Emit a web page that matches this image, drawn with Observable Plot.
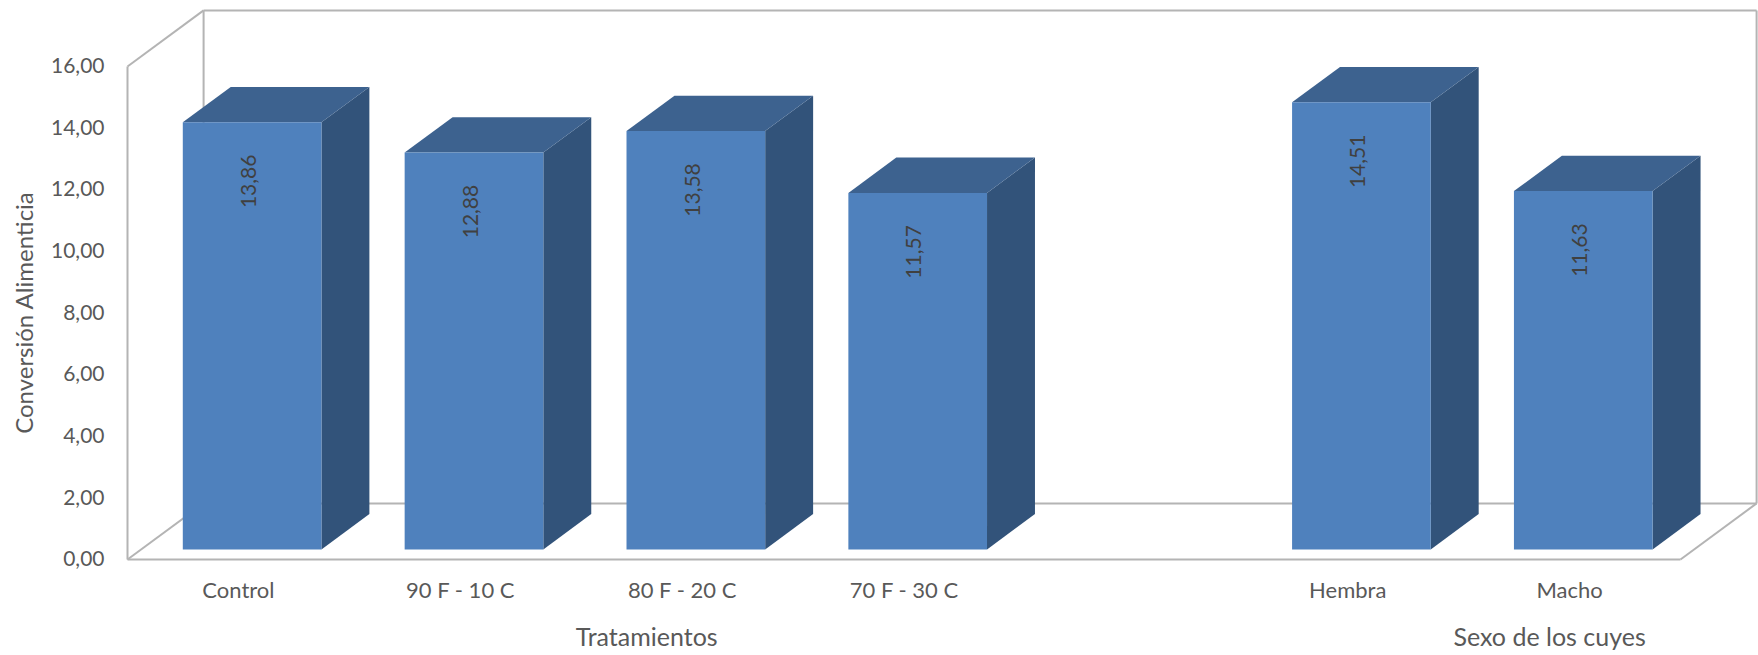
<!DOCTYPE html>
<html>
<head>
<meta charset="utf-8">
<script src="https://cdn.jsdelivr.net/npm/d3@7"></script>
<script src="https://cdn.jsdelivr.net/npm/@observablehq/plot@0.6"></script>
<style>
  html, body { margin: 0; padding: 0; background: #ffffff; }
  svg { display: block; }
</style>
</head>
<body>
<div id="chart"></div>
<script>
// Categories along the floor (one empty slot separates the two groups)
const categories = ["Control", "90 F - 10 C", "80 F - 20 C", "70 F - 30 C", "", "Hembra", "Macho"];
// Feed conversion per category
const values = [13.86, 12.88, 13.58, 11.57, null, 14.51, 11.63];
// Group titles under the category labels
const groupNames = ["Tratamientos", "Sexo de los cuyes"];
// Value axis ticks
const yTicks = [0, 2, 4, 6, 8, 10, 12, 14, 16];

// Layout of the pseudo-3D box, in data units (slots on x, value on y)
const groupCentres = [2.34, 6.41];
const DX = 0.343, DY = 1.82;   // depth of the box
const F0 = 0.18, F1 = 0.81;    // front and back of each bar inside the depth
const HALF = 0.3125;           // half bar width in slots
const NSLOTS = categories.length;
const Y_MAX = yTicks[yTicks.length - 1];

const fmt = d => d.toFixed(2).replace(".", ",");

const bars = categories
  .map((c, i) => ({c, i, v: values[i]}))
  .filter(d => d.v != null);

// Build the three visible faces of every bar as closed polygons
const fronts = [], tops = [], sides = [];
bars.forEach(d => {
  const xl = d.i + 0.5 - HALF, xr = d.i + 0.5 + HALF, v = d.v;
  const a = [F0 * DX, F0 * DY], b = [F1 * DX, F1 * DY];
  const poly = (arr, pts) => pts.forEach(([x, y]) => arr.push({id: d.c, x, y}));
  poly(fronts, [[xl + a[0], a[1]], [xr + a[0], a[1]], [xr + a[0], v + a[1]], [xl + a[0], v + a[1]]]);
  poly(tops, [[xl + a[0], v + a[1]], [xr + a[0], v + a[1]], [xr + b[0], v + b[1]], [xl + b[0], v + b[1]]]);
  poly(sides, [[xr + a[0], a[1]], [xr + b[0], b[1]], [xr + b[0], v + b[1]], [xr + a[0], v + a[1]]]);
});

// Wall and floor edges
const edges = [
  [0, 0, NSLOTS, 0],                           // front floor edge
  [0, 0, 0, Y_MAX],                            // front left edge
  [0, 0, DX, DY],                              // floor left diagonal
  [NSLOTS, 0, NSLOTS + DX, DY],                // floor right diagonal
  [0, Y_MAX, DX, Y_MAX + DY],                  // left wall top diagonal
  [DX, DY, NSLOTS + DX, DY],                   // back floor edge
  [DX, DY, DX, Y_MAX + DY],                    // back wall left edge
  [DX, Y_MAX + DY, NSLOTS + DX, Y_MAX + DY],   // back wall top edge
  [NSLOTS + DX, DY, NSLOTS + DX, Y_MAX + DY]   // back wall right edge
].map(([x1, y1, x2, y2]) => ({x1, y1, x2, y2}));

const chart = Plot.plot({
  width: 1758,
  height: 655,
  marginLeft: 127,
  marginRight: 78,
  marginTop: 66,
  marginBottom: 96,
  x: {domain: [0, NSLOTS], axis: null},
  y: {domain: [0, Y_MAX], axis: null},
  style: {fontFamily: "Lato, 'Open Sans', sans-serif", color: "#595959", background: "#ffffff", overflow: "visible"},
  marks: [
    Plot.link(edges, {x1: "x1", y1: "y1", x2: "x2", y2: "y2", stroke: "#b4b4b4", strokeWidth: 2}),
    Plot.axisY(yTicks, {tickFormat: fmt, tickSize: 0, tickPadding: 23, fontSize: 21, label: null}),
    Plot.line(sides, {x: "x", y: "y", z: "id", curve: "linear-closed", fill: "#32537a", stroke: "none"}),
    Plot.line(tops, {x: "x", y: "y", z: "id", curve: "linear-closed", fill: "#3d628f", stroke: "none"}),
    Plot.line(fronts, {x: "x", y: "y", z: "id", curve: "linear-closed", fill: "#4f81bd", stroke: "none"}),
    Plot.text(bars, {
      x: d => d.i + 0.5 + F0 * DX, y: d => d.v + F0 * DY,
      text: d => fmt(d.v), rotate: -90, dx: -3, dy: 59, fontSize: 21, fill: "#404040"
    }),
    Plot.text(bars, {x: d => d.i + 0.5, y: 0, text: "c", dy: 31, fontSize: 22, fill: "#595959"}),
    Plot.text(groupNames, {x: (d, i) => groupCentres[i], y: 0, text: d => d, dy: 78, fontSize: 25, fill: "#595959"}),
    Plot.text(["Conversión Alimenticia"], {
      frameAnchor: "left", textAnchor: "middle", text: d => d,
      rotate: -90, dx: -102, fontSize: 24, fill: "#595959"
    })
  ]
});

document.getElementById("chart").appendChild(chart);
</script>
</body>
</html>
